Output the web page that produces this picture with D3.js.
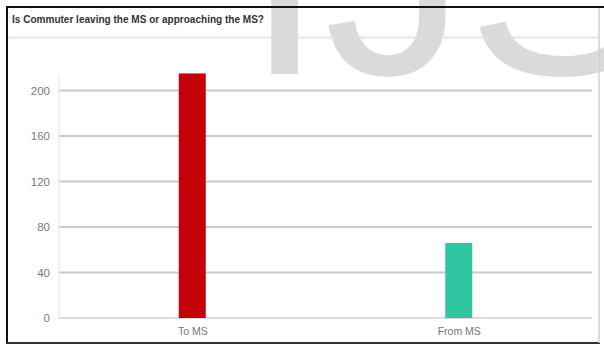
<!DOCTYPE html>
<html>
<head>
<meta charset="utf-8">
<script src="https://cdn.jsdelivr.net/npm/d3@7"></script>
<style>
  html, body { margin: 0; padding: 0; background: #fff; }
  svg { display: block; }
</style>
</head>
<body>
<svg id="chart" width="604" height="345"></svg>
<script>
// Commuter direction relative to the MS
const categories = ["To MS", "From MS"];
const commuters = [215, 66];
const tickValues = [0, 40, 80, 120, 160, 200];
const barColors = ["#c40008", "#2fc6a1"];
const title = "Is Commuter leaving the MS or approaching the MS?";
const watermark = "IJSER";

const svg = d3.select("#chart");
const W = 604, H = 345;

svg.append("rect").attr("width", W).attr("height", H).attr("fill", "#fff");

// large grey watermark behind the chart, only its lower part falls inside the page
svg.append("text")
  .attr("x", 245).attr("y", 74)
  .attr("font-family", "Liberation Sans, Arial, sans-serif")
  .attr("font-size", 285)
  .attr("fill", "#dadada")
  .text(watermark);

// title band and its separator
svg.append("text")
  .attr("x", 12).attr("y", 23)
  .attr("font-family", "Liberation Sans, Arial, sans-serif")
  .attr("font-size", 10.5).attr("font-weight", "bold")
  .attr("fill", "#333")
  .attr("textLength", 252).attr("lengthAdjust", "spacingAndGlyphs")
  .text(title);

svg.append("line")
  .attr("x1", 8).attr("x2", 598).attr("y1", 37.5).attr("y2", 37.5)
  .attr("stroke", "#dfe3d6").attr("stroke-width", 3).attr("stroke-opacity", 0.6);

// scales
const plot = { left: 59, right: 592, top: 75, bottom: 318 };
const x = d3.scalePoint().domain(categories).range([plot.left, plot.right]).padding(0.5);
const y = d3.scaleLinear().domain([0, 200]).range([plot.bottom, 90.5]);
const barWidth = 27;

// gridlines
svg.append("g")
  .selectAll("line")
  .data(tickValues)
  .join("line")
  .attr("x1", plot.left).attr("x2", plot.right)
  .attr("y1", d => y(d)).attr("y2", d => y(d))
  .attr("stroke", d => d === 0 ? "#dcdcdc" : "#c9c9c9")
  .attr("stroke-width", 2);

// y axis line
svg.append("line")
  .attr("x1", plot.left).attr("x2", plot.left)
  .attr("y1", plot.top).attr("y2", plot.bottom)
  .attr("stroke", "#e6e6e6").attr("stroke-width", 1);

// y axis labels
const yAxis = d3.axisLeft(y).tickValues(tickValues).tickSize(0).tickPadding(9);
const gy = svg.append("g").attr("transform", `translate(${plot.left},0)`).call(yAxis);
gy.select(".domain").remove();
gy.selectAll("text")
  .attr("font-family", "Liberation Sans, Arial, sans-serif")
  .attr("font-size", 11.5)
  .attr("fill", "#7a7a7a");

// bars
svg.append("g")
  .selectAll("rect")
  .data(categories)
  .join("rect")
  .attr("x", d => x(d) - barWidth / 2)
  .attr("width", barWidth)
  .attr("y", (d, i) => y(commuters[i]))
  .attr("height", (d, i) => y(0) - y(commuters[i]))
  .attr("fill", (d, i) => barColors[i]);

// category axis
const xAxis = d3.axisBottom(x).tickSize(0).tickPadding(10);
const gx = svg.append("g").attr("transform", `translate(0,${plot.bottom})`).call(xAxis);
gx.select(".domain").remove();
gx.selectAll("text")
  .attr("font-family", "Liberation Sans, Arial, sans-serif")
  .attr("font-size", 10.5)
  .attr("fill", "#777");

// frame
svg.append("line").attr("x1", 6).attr("x2", W).attr("y1", 7).attr("y2", 7)
  .attr("stroke", "#111").attr("stroke-width", 2);
svg.append("line").attr("x1", 7).attr("x2", 7).attr("y1", 6).attr("y2", 344)
  .attr("stroke", "#111").attr("stroke-width", 2);
svg.append("line").attr("x1", 6).attr("x2", 600).attr("y1", 343).attr("y2", 343)
  .attr("stroke", "#333").attr("stroke-width", 2);
svg.append("line").attr("x1", 599).attr("x2", 599).attr("y1", 8).attr("y2", 343)
  .attr("stroke", "#d0d0d0").attr("stroke-width", 1.5);
</script>
</body>
</html>
